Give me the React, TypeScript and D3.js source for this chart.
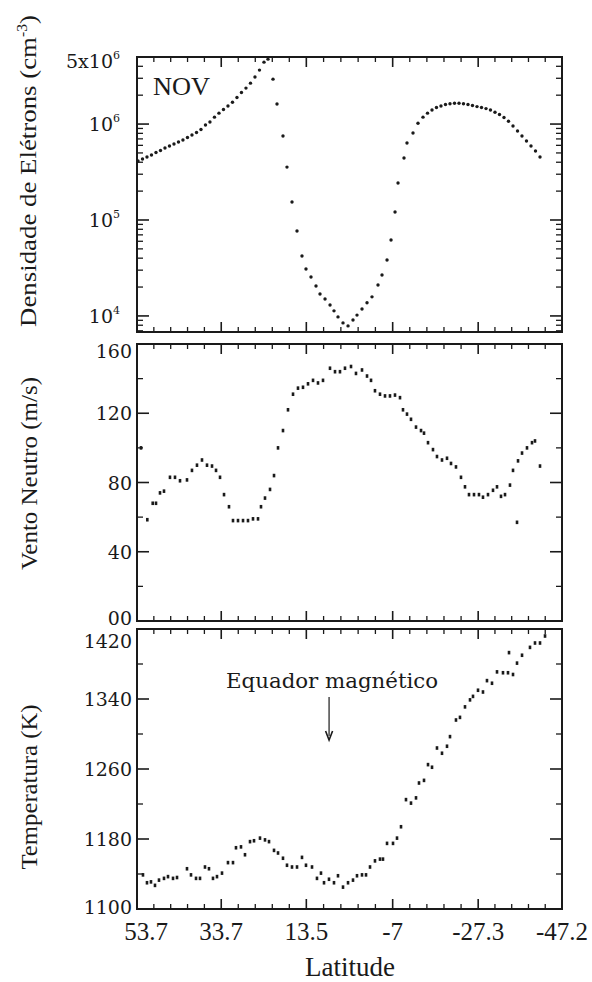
import React from "react";
import * as d3 from "d3";

// ---------- data ----------
const xTickValues = [53.7, 33.7, 13.5, -7, -27.3, -47.2];
const xTickLabels = ["53.7", "33.7", "13.5", "-7", "-27.3", "-47.2"];

const densLat = [
  53.46, 52.39, 51.33, 50.26, 49.19, 48.12, 47.06, 45.99, 44.92, 43.85, 42.79, 41.72, 40.65, 39.57, 38.51,
  37.44, 36.38, 35.31, 34.24, 33.17, 32.1, 31.03, 29.97, 28.9, 27.83, 26.76, 25.69, 24.62, 23.55, 22.6,
  21.41, 20.46, 19.04, 18.09, 16.9, 15.71, 14.53, 13.58, 12.39, 11.2, 10.25, 9.06, 7.87, 6.93, 5.98, 4.79,
  3.6, 2.42, 1.47, 0.28, -0.91, -2.09, -3.52, -4.47, -5.66, -6.61, -7.56, -8.27, -9.69, -10.4, -11.83,
  -13.01, -14.2, -15.27, -16.34, -17.4, -18.47, -19.54, -20.61, -21.68, -22.75, -23.81, -24.88, -25.95,
  -27.02, -28.09, -29.16, -30.22, -31.29, -32.36, -33.43, -34.5, -35.57, -36.64, -37.7, -38.77, -39.84,
  -40.91, -41.98,
];
const densVal = [
  4.12e5, 4.32e5, 4.53e5, 4.75e5, 5.05e5, 5.3e5, 5.62e5, 5.9e5, 6.19e5, 6.49e5, 6.81e5, 7.23e5, 7.68e5, 8.16e5, 8.77e5,
  9.76e5, 1.05e6, 1.18e6, 1.3e6, 1.42e6, 1.54e6, 1.69e6, 1.89e6, 2.13e6, 2.37e6, 2.67e6, 3.09e6, 3.65e6, 4.42e6, 4.75e6,
  2.94e6, 1.62e6, 7.5e5, 3.56e5, 1.54e5, 7.68e4, 4.22e4, 3.09e4, 2.55e4, 2.05e4, 1.69e4, 1.5e4, 1.3e4, 1.13e4, 9.77e3, 8.46e3,
  7.87e3, 9.08e3, 1.02e4, 1.18e4, 1.37e4, 1.58e4, 2.1e4, 2.67e4, 3.83e4, 6.19e4, 1.21e5, 2.43e5, 4.42e5, 6.34e5, 8.06e5,
  1.02e6, 1.18e6, 1.3e6, 1.4e6, 1.49e6, 1.54e6, 1.6e6, 1.63e6, 1.65e6, 1.65e6, 1.63e6, 1.6e6, 1.56e6,
  1.52e6, 1.49e6, 1.45e6, 1.4e6, 1.33e6, 1.26e6, 1.17e6, 1.07e6, 9.53e5, 8.46e5, 7.5e5, 6.65e5, 5.9e5,
  5.23e5, 4.53e5,
];

const windLat = [
  52.75, 51.25, 49.97, 49.19, 48.24, 47.29, 45.87, 44.68, 43.49, 41.83, 40.65, 39.46, 38.27, 37.08, 35.89,
  34.94, 33.99, 33.04, 31.86, 30.91, 29.72, 28.53, 27.35, 26.16, 24.97, 24.26, 23.31, 22.12, 21.17, 20.22,
  19.04, 17.85, 16.66, 15.48, 14.29, 13.1, 11.91, 10.73, 9.54, 7.88, 6.69, 5.51, 4.32, 2.89, 1.71, 0.28,
  -0.91, -1.86, -2.8, -3.99, -5.18, -6.36, -7.55, -8.74, -9.45, -10.4, -11.35, -12.54, -13.73, -14.44,
  -15.39, -16.57, -17.52, -18.71, -19.9, -20.85, -22.03, -23.22, -24.17, -25.12, -26.31, -27.49, -28.44,
  -29.63, -30.82, -31.77, -32.72, -33.67, -34.85, -35.57, -36.76, -37.71, -38.89, -40.08, -40.79, -41.98,
  -36.52,
];
const windVal = [
  100, 58.5, 68, 68, 74, 75, 83, 83, 81, 81.5, 87, 90, 93, 90, 89.5,
  87, 83, 73, 66, 58, 58, 58, 58, 59, 59, 66, 71, 76, 84, 100,
  110, 122, 131, 134.5, 135, 137, 139, 137.5, 139, 146, 144, 144, 146, 147, 143, 145,
  141.5, 139, 133, 131, 130, 130, 130.5, 129, 122, 119.5, 116.5, 112, 110, 108.5,
  103, 99, 95, 93, 94, 91, 89, 83, 77.5, 73, 73, 73, 71.5,
  73, 75.5, 77.5, 72, 73, 78.5, 87, 92.5, 97, 100, 103, 104, 89.5,
  57,
];

const tempLat = [
  52.28, 51.33, 50.38, 49.43, 48.48, 47.29, 46.34, 45.15, 44.2, 41.83, 40.88, 39.69, 38.74, 37.56, 36.61,
  35.66, 34.71, 33.52, 32.1, 30.91, 30.2, 29.01, 28.06, 26.87, 25.92, 24.5, 23.31, 22.36, 21.17, 20.22,
  19.04, 18.09, 16.9, 15.71, 14.53, 13.58, 12.15, 10.97, 10.02, 9.3, 8.12, 6.93, 5.98, 4.79, 3.6, 2.42,
  1.47, 0.28, -0.67, -1.62, -2.8, -3.99, -4.7, -5.66, -7.08, -8.03, -8.98, -10.16, -11.35, -12.54, -13.25,
  -14.44, -15.39, -16.34, -17.52, -18.71, -19.9, -20.61, -22.03, -22.98, -24.17, -25.36, -26.07, -27.26,
  -28.44, -29.39, -30.58, -31.77, -33.19, -34.38, -35.57, -34.62, -36.52, -37.71, -39.6, -40.79, -41.98,
  -43.17,
];
const tempVal = [
  1139, 1130, 1131, 1127, 1133, 1135, 1137, 1135, 1136, 1146, 1139, 1135, 1135, 1148, 1146,
  1135, 1137, 1141, 1153, 1153, 1170, 1171, 1162, 1177, 1178, 1181, 1179, 1177, 1167, 1164,
  1158, 1150, 1148, 1148, 1159, 1150, 1148, 1135, 1141, 1130, 1134, 1130, 1138, 1125, 1130, 1133,
  1138, 1139, 1139, 1148, 1155, 1157, 1157, 1175, 1175, 1181, 1194, 1225, 1221, 1227, 1244,
  1247, 1265, 1262, 1284, 1278, 1286, 1297, 1316, 1319, 1331, 1339, 1343, 1350,
  1348, 1361, 1358, 1371, 1370, 1370, 1368, 1393, 1381, 1390, 1399, 1404, 1404,
  1412,
];

const windTicks = [0, 40, 80, 120, 160];
const windTickLabels = ["00", "40", "80", "120", "160"];
const tempTicks = [1100, 1180, 1260, 1340, 1420];
const tempTickLabels = ["1100", "1180", "1260", "1340", "1420"];
const densTicks = [1e4, 1e5, 1e6, 5e6];
const densTickBase = ["10", "10", "10", "5x10"];
const densTickExp = ["4", "5", "6", "6"];

// ---------- layout ----------
const W = 592;
const H = 982;
const X0 = 137;
const X1 = 562;
const P1 = [57, 332];
const P2 = [344, 621];
const P3 = [629, 909];
const INK = "#1a1a1a";
const SERIF = "Liberation Serif, Times New Roman, Times, serif";
const WIDE = "DejaVu Serif, serif";

export default function App() {
  const x = d3.scaleLinear().domain([53.7, -47.2]).range([X0, X1]);
  const yD = d3.scaleLog().domain([6.8e3, 5e6]).range([P1[1], P1[0]]);
  const yW = d3.scaleLinear().domain([0, 160]).range([P2[1], P2[0]]);
  const yT = d3.scaleLinear().domain([1100, 1420]).range([P3[1], P3[0]]);

  const xMinor: number[] = [];
  for (let i = 0; i < xTickValues.length - 1; i++) {
    const a = xTickValues[i], b = xTickValues[i + 1];
    for (let k = 1; k < 5; k++) xMinor.push(a + ((b - a) * k) / 5);
  }
  const densMinor: number[] = [];
  for (const dec of [1e3, 1e4, 1e5, 1e6]) {
    for (let m = 2; m <= 9; m++) {
      const v = dec * m;
      if (v > 6.8e3 && v < 5e6) densMinor.push(v);
    }
  }
  const windMinor = [20, 60, 100, 140];
  const tempMinor = [1140, 1220, 1300, 1380];

  const serif = { fontFamily: SERIF };
  const wide = { fontFamily: WIDE };

  const frame = (
    key: string,
    top: number,
    bottom: number,
    yScale: (v: number) => number,
    yMajor: number[],
    yMinor: number[]
  ) => (
    <g key={key}>
      <rect x={X0} y={top} width={X1 - X0} height={bottom - top} fill="none" stroke={INK} strokeWidth={2} />
      {xTickValues.map((v, i) => (
        <g key={"xm" + i}>
          <line x1={x(v)} x2={x(v)} y1={bottom} y2={bottom - 10} stroke={INK} strokeWidth={1.6} />
          <line x1={x(v)} x2={x(v)} y1={top} y2={top + 10} stroke={INK} strokeWidth={1.6} />
        </g>
      ))}
      {xMinor.map((v, i) => (
        <g key={"xn" + i}>
          <line x1={x(v)} x2={x(v)} y1={bottom} y2={bottom - 5} stroke={INK} strokeWidth={1.3} />
          <line x1={x(v)} x2={x(v)} y1={top} y2={top + 5} stroke={INK} strokeWidth={1.3} />
        </g>
      ))}
      {yMajor.map((v, i) => (
        <g key={"ym" + i}>
          <line x1={X0} x2={X0 + 12} y1={yScale(v)} y2={yScale(v)} stroke={INK} strokeWidth={1.6} />
          <line x1={X1} x2={X1 - 12} y1={yScale(v)} y2={yScale(v)} stroke={INK} strokeWidth={1.6} />
        </g>
      ))}
      {yMinor.map((v, i) => (
        <g key={"yn" + i}>
          <line x1={X0} x2={X0 + 6} y1={yScale(v)} y2={yScale(v)} stroke={INK} strokeWidth={1.3} />
          <line x1={X1} x2={X1 - 6} y1={yScale(v)} y2={yScale(v)} stroke={INK} strokeWidth={1.3} />
        </g>
      ))}
    </g>
  );

  const arrowLat = 8.1;
  const ax = x(arrowLat);

  return (
    <svg
      width={W}
      height={H}
      viewBox={`0 0 ${W} ${H}`}
      style={{ position: "absolute", left: 0, top: 0, background: "#fff" }}
    >
      <rect x={0} y={0} width={W} height={H} fill="#fff" />

      {frame("p1", P1[0], P1[1], (v) => yD(v), [1e4, 1e5, 1e6], densMinor.filter((v) => ![1e4, 1e5, 1e6].includes(v)))}
      {frame("p2", P2[0], P2[1], (v) => yW(v), windTicks, windMinor)}
      {frame("p3", P3[0], P3[1], (v) => yT(v), tempTicks, tempMinor)}

      {densLat.map((lat, i) => (
        <circle key={"d" + i} cx={x(lat)} cy={yD(densVal[i])} r={1.7} fill={INK} />
      ))}
      {windLat.map((lat, i) => (
        <rect key={"w" + i} x={x(lat) - 1.3} y={yW(windVal[i]) - 1.8} width={2.6} height={3.6} fill={INK} />
      ))}
      {tempLat.map((lat, i) => (
        <rect key={"t" + i} x={x(lat) - 1.3} y={yT(tempVal[i]) - 1.8} width={2.6} height={3.6} fill={INK} />
      ))}

      {densTicks.map((v, i) => (
        <text key={"dl" + i} x={120} y={yD(v) + (i === 3 ? 11 : 7)} textAnchor="end" style={wide} fontSize={19} fill={INK}>
          {densTickBase[i]}
          <tspan fontSize={11} dy={-9}>
            {densTickExp[i]}
          </tspan>
        </text>
      ))}
      {windTicks.map((v, i) => (
        <text
          key={"wl" + i}
          x={132}
          y={yW(v) + (i === 4 ? 14 : i === 0 ? 4 : 7)}
          textAnchor="end"
          style={wide}
          fontSize={19}
          fill={INK}
        >
          {windTickLabels[i]}
        </text>
      ))}
      {tempTicks.map((v, i) => (
        <text
          key={"tl" + i}
          x={132}
          y={yT(v) + (i === 4 ? 19 : i === 0 ? 5 : 7)}
          textAnchor="end"
          style={wide}
          fontSize={19}
          fill={INK}
        >
          {tempTickLabels[i]}
        </text>
      ))}

      {xTickValues.map((v, i) => (
        <text key={"xl" + i} x={x(v) + (i === 0 ? 9 : 0)} y={940} textAnchor="middle" style={serif} fontSize={25} fill={INK}>
          {xTickLabels[i]}
        </text>
      ))}
      <text x={350} y={976} textAnchor="middle" style={serif} fontSize={27} fill={INK}>
        Latitude
      </text>

      <text
        transform={`translate(36, 171) rotate(-90)`}
        textAnchor="middle"
        style={serif}
        fontSize={24}
        fill={INK}
        textLength={312}
        lengthAdjust="spacingAndGlyphs"
      >
        Densidade de Elétrons (cm<tspan fontSize={14} dy={-9}>-3</tspan>
        <tspan dy={9}>)</tspan>
      </text>
      <text
        transform={`translate(37, ${(P2[0] + P2[1]) / 2 - 9}) rotate(-90)`}
        textAnchor="middle"
        style={serif}
        fontSize={24}
        fill={INK}
        textLength={193}
        lengthAdjust="spacingAndGlyphs"
      >
        Vento Neutro (m/s)
      </text>
      <text
        transform={`translate(37, ${(P3[0] + P3[1]) / 2 + 18}) rotate(-90)`}
        textAnchor="middle"
        style={serif}
        fontSize={24}
        fill={INK}
        textLength={165}
        lengthAdjust="spacingAndGlyphs"
      >
        Temperatura (K)
      </text>

      <text x={153} y={95} style={serif} fontSize={26} fill={INK} textLength={57} lengthAdjust="spacingAndGlyphs">
        NOV
      </text>

      <text
        x={ax + 3}
        y={688}
        textAnchor="middle"
        style={wide}
        fontSize={20}
        fill={INK}
        textLength={212}
        lengthAdjust="spacingAndGlyphs"
      >
        Equador magnético
      </text>
      <line x1={ax} x2={ax} y1={697} y2={736} stroke={INK} strokeWidth={1.2} />
      <path d={`M${ax - 3.5},731 L${ax},740 L${ax + 3.5},731`} fill="none" stroke={INK} strokeWidth={1.6} />
    </svg>
  );
}
